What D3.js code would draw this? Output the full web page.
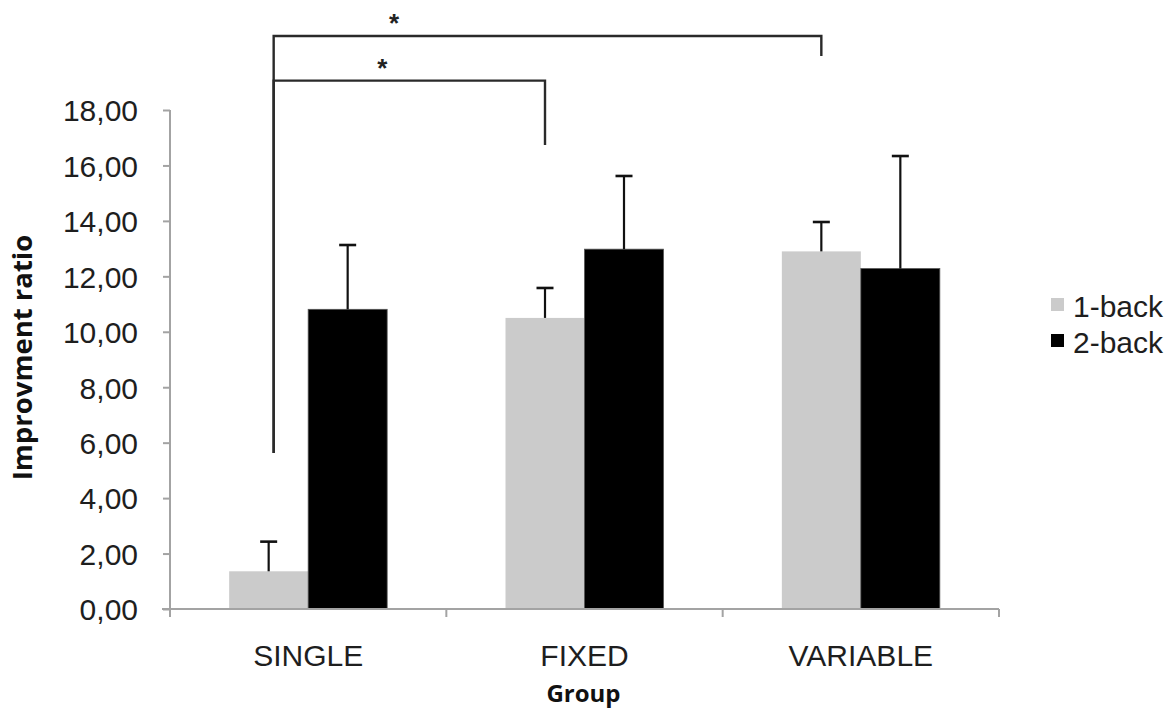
<!DOCTYPE html>
<html>
<head>
<meta charset="utf-8">
<script src="https://cdn.jsdelivr.net/npm/d3@7"></script>
<style>
  html, body { margin: 0; padding: 0; background: #fff; }
  svg { display: block; }
</style>
</head>
<body>
<svg id="chart" width="1175" height="711"></svg>
<script>
// ---- data ----
const categories = ["SINGLE", "FIXED", "VARIABLE"];
const seriesNames = ["1-back", "2-back"];
const oneBack = [1.36, 10.50, 12.90];
const twoBack = [10.81, 12.98, 12.28];
const oneBackErr = [1.07, 1.08, 1.06];
const twoBackErr = [2.32, 2.64, 4.06];
const yTicks = [0, 2, 4, 6, 8, 10, 12, 14, 16, 18];
const yTickLabels = ["0,00", "2,00", "4,00", "6,00", "8,00", "10,00", "12,00", "14,00", "16,00", "18,00"];
// significance brackets: from (category, series) to (category, series), levels in data units
const brackets = [
  { from: ["SINGLE", "1-back"], to: ["VARIABLE", "1-back"], level: 20.67, leftBottom: 5.63, rightBottom: 19.95, label: "*", labelAt: 0.22 },
  { from: ["SINGLE", "1-back"], to: ["FIXED", "1-back"], level: 19.06, leftBottom: 5.63, rightBottom: 16.74, label: "*", labelAt: 0.40 }
];

const colors = { "1-back": "#cbcbcb", "2-back": "#000000" };
const values = { "1-back": oneBack, "2-back": twoBack };
const errs = { "1-back": oneBackErr, "2-back": twoBackErr };

const svg = d3.select("#chart");
const mLeft = 170, mRight = 999, mTop = 110, mBottom = 609;

const x0 = d3.scaleBand().domain(categories).range([mLeft, mRight]).paddingInner(0).paddingOuter(0);
const x1 = d3.scaleBand().domain(seriesNames).range([0, x0.bandwidth()]).paddingInner(0).paddingOuter(0.749);
const y = d3.scaleLinear().domain([0, 18]).range([mBottom, mTop]);

const axisColor = "#a3a3a3";
const textColor = "#1e1e1e";
const fontTick = "'Liberation Sans', Arial, sans-serif";

const barData = [];
categories.forEach((c, i) => seriesNames.forEach(s => barData.push({ c, s, v: values[s][i], e: errs[s][i] })));

svg.append("g").selectAll("rect").data(barData).join("rect")
  .attr("x", d => x0(d.c) + x1(d.s))
  .attr("y", d => y(d.v))
  .attr("width", x1.bandwidth())
  .attr("height", d => y(0) - y(d.v))
  .attr("fill", d => colors[d.s])
  .attr("stroke", d => d.s === "2-back" ? "#555" : "none")
  .attr("stroke-width", 0.8);

const eb = svg.append("g").attr("stroke", "#111").attr("stroke-width", 2.2);
barData.forEach(d => {
  const cx = x0(d.c) + x1(d.s) + x1.bandwidth() / 2;
  eb.append("line").attr("x1", cx).attr("x2", cx).attr("y1", y(d.v)).attr("y2", y(d.v + d.e));
  eb.append("line").attr("x1", cx - 8.5).attr("x2", cx + 8.5).attr("y1", y(d.v + d.e)).attr("y2", y(d.v + d.e)).attr("stroke-width", 2.6);
});

// y axis
const yAxis = d3.axisLeft(y).tickValues(yTicks).tickFormat((d, i) => yTickLabels[i]).tickSize(7).tickPadding(25);
const gy = svg.append("g").attr("transform", `translate(${mLeft},0)`).call(yAxis);
gy.select(".domain").attr("stroke", axisColor).attr("stroke-width", 2).attr("d", `M0,${mTop}V${mBottom + 8}`);
gy.selectAll(".tick line").attr("stroke", axisColor).attr("stroke-width", 2);
gy.selectAll(".tick text").attr("fill", textColor).style("font-family", fontTick).style("font-size", "30px").attr("dy", "0.36em");

// x axis
const gx = svg.append("g").attr("transform", `translate(0,${mBottom})`);
gx.append("line").attr("x1", mLeft - 8).attr("x2", mRight).attr("y1", 0).attr("y2", 0).attr("stroke", axisColor).attr("stroke-width", 2);
const boundaries = categories.map(c => x0(c)).concat([x0(categories[categories.length - 1]) + x0.bandwidth()]);
gx.selectAll("line.tk").data(boundaries.slice(1)).join("line").attr("class", "tk")
  .attr("x1", d => d).attr("x2", d => d).attr("y1", 0).attr("y2", 8).attr("stroke", axisColor).attr("stroke-width", 2);
gx.selectAll("text").data(categories).join("text")
  .attr("x", d => x0(d) + x0.bandwidth() / 2).attr("y", 57)
  .attr("text-anchor", "middle").attr("fill", textColor)
  .style("font-family", fontTick).style("font-size", "30px")
  .text(d => d);

// axis titles
svg.append("text").attr("x", (mLeft + mRight) / 2 - 1).attr("y", 702).attr("text-anchor", "middle")
  .style("font-family", "'Open Sans', sans-serif").style("font-weight", "bold").style("font-size", "24px")
  .attr("fill", "#111").text("Group");
svg.append("text").attr("transform", `translate(32,${(mTop + mBottom) / 2 - 2}) rotate(-90)`).attr("text-anchor", "middle")
  .style("font-family", "'Open Sans', sans-serif").style("font-weight", "bold").style("font-size", "27.5px")
  .attr("fill", "#111").text("Improvment ratio");

// legend
const lg = svg.append("g").attr("transform", "translate(1051,0)");
seriesNames.forEach((s, i) => {
  const cy = 306 + i * 36;
  lg.append("rect").attr("x", 0).attr("y", cy - 8).attr("width", 13).attr("height", 13).attr("fill", colors[s]);
  lg.append("text").attr("x", 22).attr("y", cy).attr("dy", "0.36em").attr("fill", textColor)
    .style("font-family", fontTick).style("font-size", "30px").text(s);
});

// significance brackets
const bx = (p) => x0(p[0]) + x1(p[1]) + x1.bandwidth() / 2;
const bg = svg.append("g").attr("fill", "none").attr("stroke", "#2a2a2a").attr("stroke-width", 2.4);
brackets.forEach(b => {
  const xa = bx(b.from) + 5, xb = bx(b.to);
  bg.append("path").attr("d", `M${xa},${y(b.leftBottom)}V${y(b.level)}H${xb}V${y(b.rightBottom)}`);
  svg.append("text").attr("x", xa + (xb - xa) * b.labelAt).attr("y", y(b.level) - 4)
    .attr("text-anchor", "middle").attr("fill", "#222")
    .style("font-family", fontTick).style("font-weight", "bold").style("font-size", "26px").text(b.label);
});
</script>
</body>
</html>
